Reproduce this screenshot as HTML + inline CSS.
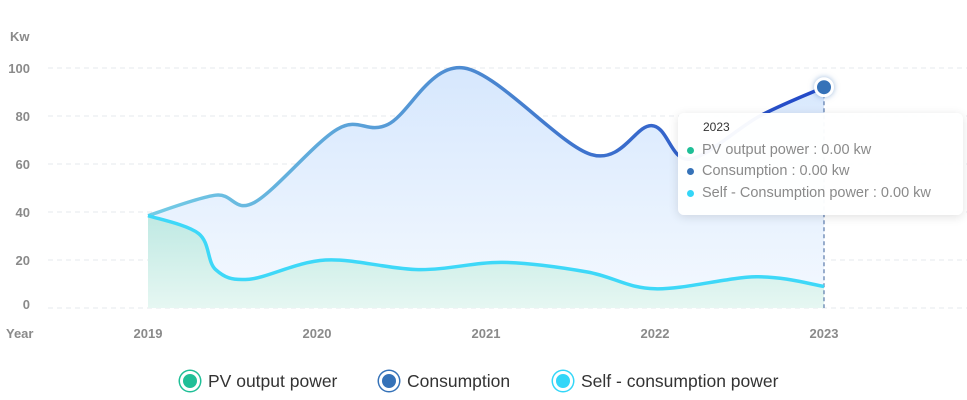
<!DOCTYPE html>
<html><head><meta charset="utf-8"><style>
body{margin:0;background:#fff;font-family:"Liberation Sans",sans-serif;}
#wrap{position:relative;width:967px;height:400px;overflow:hidden;}
.tip{position:absolute;left:678px;top:113px;width:285px;height:102px;background:rgba(255,255,255,0.96);border-radius:6px;box-shadow:0 2px 10px rgba(0,0,0,0.12);font-size:14.5px;color:#8a8a8a;}
.tip .t{position:absolute;left:25px;top:7px;color:#333;font-size:12px;}
.tip .r{position:absolute;left:9px;white-space:nowrap;}
.tip .d{display:inline-block;width:7px;height:7px;border-radius:50%;margin-right:8px;vertical-align:middle;}
.leg{position:absolute;top:371px;font-size:17.5px;color:#333;white-space:nowrap;}
.leg .c{display:inline-block;width:14px;height:14px;border-radius:50%;border:3px solid #fff;box-shadow:0 0 0 1.5px var(--k);background:var(--k);vertical-align:-4px;margin-right:8px;}
</style></head><body>
<div id="wrap">
<svg id="svg" width="967" height="400"></svg>
<div class="tip">
<div class="t">2023</div>
<div class="r" style="top:29px"><span class="d" style="background:#1fbf97"></span>PV output power : 0.00 kw</div>
<div class="r" style="top:50px"><span class="d" style="background:#3572b8"></span>Consumption : 0.00 kw</div>
<div class="r" style="top:72px"><span class="d" style="background:#33d6f8"></span>Self - Consumption power : 0.00 kw</div>
</div>
<div class="leg" style="left:180px"><span class="c" style="--k:#1fbf97"></span>PV output power</div>
<div class="leg" style="left:379px"><span class="c" style="--k:#3572b8"></span>Consumption</div>
<div class="leg" style="left:553px"><span class="c" style="--k:#33d6f8"></span>Self - consumption power</div>
</div>
<script>
const years=[2019,2020,2021,2022,2023];
const yTicks=[0,20,40,60,80,100];
const consX=[2019,2019.4,2019.63,2020.12,2020.42,2020.87,2021.62,2021.98,2022.2,2022.62,2023];
const consY=[38.5,47,44,74.5,76.5,100,64,76,62,80,92];
const selfX=[2019,2019.3,2019.4,2019.6,2020.05,2020.6,2021.1,2021.6,2022,2022.6,2023];
const selfY=[38.5,31,16,12,20,16,19,15,8,13,9];
const svg=document.getElementById('svg');
const NS='http://www.w3.org/2000/svg';
const xS=v=>148+(v-2019)*169;
const yS=v=>308-v*2.4;
function mk(t,a,p){const e=document.createElementNS(NS,t);for(const k in a)e.setAttribute(k,a[k]);(p||svg).appendChild(e);return e;}
const defs=mk('defs',{});
defs.innerHTML='<linearGradient id="lg" x1="0" x2="1"><stop offset="0" stop-color="#74cde6"/><stop offset="0.5" stop-color="#4a86d0"/><stop offset="1" stop-color="#2146c7"/></linearGradient><linearGradient id="fa" x1="0" y1="0" x2="0" y2="1"><stop offset="0" stop-color="#d6e7fd"/><stop offset="1" stop-color="#f4f9ff"/></linearGradient><linearGradient id="fb" x1="0" y1="0" x2="0" y2="1"><stop offset="0" stop-color="#bfe9e3"/><stop offset="1" stop-color="#e6f7f2"/></linearGradient>';
yTicks.forEach(t=>{
 const l=mk('line',{x1:48,x2:967,y1:yS(t),y2:yS(t),stroke:'#e6e9ee','stroke-dasharray':'5,4'});
 
 const tx=mk('text',{x:30,y:yS(t)+(t===0?1:5),'text-anchor':'end','font-size':13,fill:'#8a8a8a','font-weight':'bold'});tx.textContent=t;
 
});
const ku=mk('text',{x:10,y:41,'font-size':13,fill:'#8a8a8a','font-weight':'bold'});ku.textContent='Kw';

const yr=mk('text',{x:6,y:338,'font-size':13,fill:'#8a8a8a','font-weight':'bold'});yr.textContent='Year';

years.forEach(y=>{const t=mk('text',{x:xS(y),y:338,'text-anchor':'middle','font-size':13,fill:'#8a8a8a','font-weight':'bold'});t.textContent=y;
 });
function path(xs,ys){const p=xs.map((x,i)=>[xS(x),yS(ys[i])]);let d='M'+p[0];
 for(let i=0;i<p.length-1;i++){const a=p[i-1]||p[i],b=p[i],c=p[i+1],e=p[i+2]||c;
 d+=' C'+(b[0]+(c[0]-a[0])/6)+','+(b[1]+(c[1]-a[1])/6)+' '+(c[0]-(e[0]-b[0])/6)+','+(c[1]-(e[1]-b[1])/6)+' '+c[0]+','+c[1];}return d;}
const cd=path(consX,consY),sd=path(selfX,selfY);
const base=yS(0);
let e=mk('path',{d:cd+` L${xS(2023)},${base} L${xS(2019)},${base} Z`,fill:'url(#fa)'});

e=mk('path',{d:sd+` L${xS(2023)},${base} L${xS(2019)},${base} Z`,fill:'url(#fb)'});

e=mk('line',{x1:xS(2023),x2:xS(2023),y1:yS(consY[consY.length-1]),y2:base,stroke:'#3a5f9a','stroke-dasharray':'4,3'});

e=mk('path',{d:cd,fill:'none',stroke:'url(#lg)','stroke-width':3.5});

e=mk('path',{d:sd,fill:'none',stroke:'#3ed8f8','stroke-width':3.5});

e=mk('circle',{cx:xS(2023),cy:yS(consY[consY.length-1]),r:8.5,fill:'#3572b8',stroke:'#fff','stroke-width':3,style:'filter:drop-shadow(0 0 3px rgba(53,114,184,0.5))'});

</script>
</body></html>
